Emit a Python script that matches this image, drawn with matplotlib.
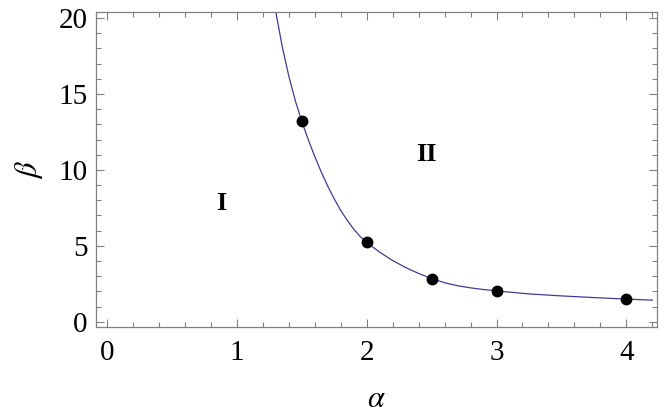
import numpy as np
import matplotlib
import matplotlib.pyplot as plt
from matplotlib.ticker import MultipleLocator

matplotlib.use("Agg")
matplotlib.rcParams.update({
    "font.family": "Liberation Serif",
    "mathtext.fontset": "stix",
})

# boundary curve
alpha_curve = [1.30, 1.35, 1.40, 1.45, 1.50, 1.55, 1.60, 1.65, 1.70, 1.75,
               1.80, 1.85, 1.90, 1.95, 2.00, 2.10, 2.20, 2.30, 2.40, 2.50,
               2.60, 2.70, 2.80, 2.90, 3.00, 3.25, 3.50, 3.75, 4.00, 4.10, 4.20]
beta_curve = [20.4, 18.10, 16.18, 14.56, 13.2, 11.99, 10.88, 9.86, 8.93, 8.09,
              7.33, 6.68, 6.10, 5.61, 5.22, 4.58, 4.03, 3.57, 3.18, 2.84,
              2.57, 2.37, 2.23, 2.12, 2.03, 1.83, 1.70, 1.59, 1.49, 1.455, 1.42]

# computed points
alpha_pts = [1.5, 2.0, 2.5, 3.0, 4.0]
beta_pts = [13.2, 5.22, 2.84, 2.03, 1.49]

regions = ["I", "II"]
region_pos = [(0.88, 7.8), (2.46, 11.0)]

GRAY = "#808080"

fig = plt.figure(figsize=(6.64, 4.15), dpi=100)
ax = fig.add_axes([0.1446, 0.212, 0.845, 0.759])

ax.plot(alpha_curve, beta_curve, color="#3d3d99", lw=0.9)
ax.plot(alpha_pts, beta_pts, "o", color="black", ms=7.5, zorder=5)

for txt, (x, y) in zip(regions, region_pos):
    ax.text(x, y, txt, fontsize=19, fontweight="bold", ha="center", va="center")

ax.set_xlim(-0.085, 4.237)
ax.set_ylim(-0.35, 20.4)
ax.xaxis.set_major_locator(MultipleLocator(1))
ax.xaxis.set_minor_locator(MultipleLocator(0.2))
ax.yaxis.set_major_locator(MultipleLocator(5))
ax.yaxis.set_minor_locator(MultipleLocator(1))

for s in ax.spines.values():
    s.set_color(GRAY)
    s.set_linewidth(0.9)
ax.tick_params(which="both", direction="in", top=True, right=True,
               color=GRAY, width=0.8, labelsize=21)
ax.tick_params(which="major", length=6)
ax.tick_params(which="minor", length=3.5)
ax.tick_params(axis="x", pad=9)
ax.tick_params(axis="y", pad=6)

ax.set_xlabel(r"$\alpha$", fontsize=22, labelpad=14)
ax.set_ylabel(r"$\beta$", fontsize=22, labelpad=10)

fig.savefig("out.png", dpi=100)
